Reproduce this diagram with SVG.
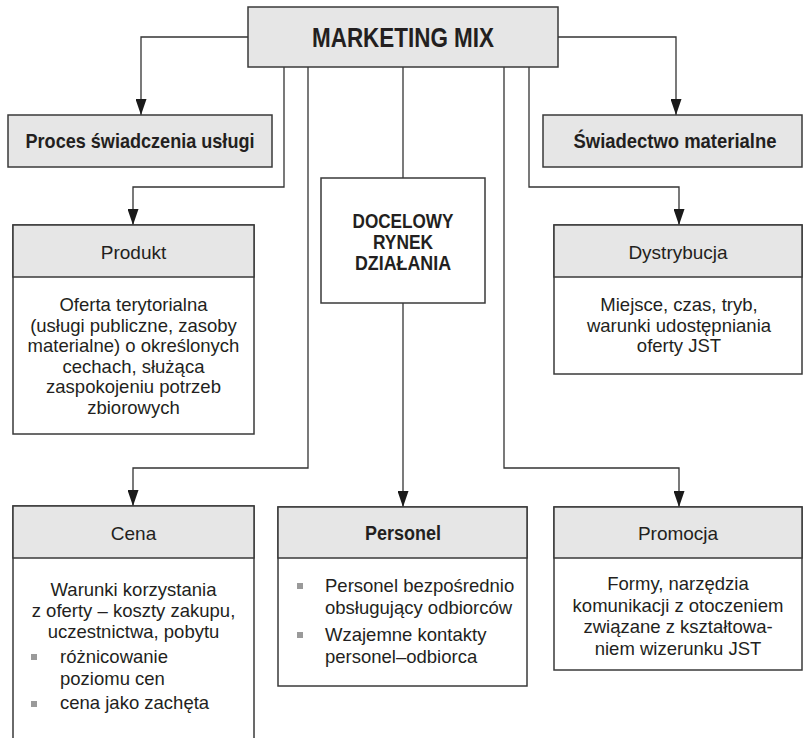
<svg xmlns="http://www.w3.org/2000/svg" width="803" height="738" viewBox="0 0 803 738">
<style>
  text { font-family: "Liberation Sans", Arial, sans-serif; fill: #231f20; }
  .t { font-size: 18.5px; text-anchor: middle; }
  .tl { font-size: 18.5px; }
  .h { font-size: 19px; text-anchor: middle; }
  .b { font-weight: bold; text-anchor: middle; }
  .box { fill: #ffffff; stroke: #3a3a3a; stroke-width: 1.5; }
  .gray { fill: #e6e6e6; stroke: #3a3a3a; stroke-width: 1.5; }
  .conn { fill: none; stroke: #333333; stroke-width: 1.3; }
  .bul { fill: #9a9a9a; }
</style>
<defs>
  <marker id="arr" viewBox="0 0 16 11" refX="16" refY="5.5" markerWidth="16" markerHeight="11" markerUnits="userSpaceOnUse" orient="auto">
    <path d="M0,0 L16,5.5 L0,11 Z" fill="#1a1a1a"/>
  </marker>
</defs>

<g id="connectors">
  <path class="conn" d="M248,37 H141 V115" marker-end="url(#arr)"/>
  <path class="conn" d="M558,37 H676 V115" marker-end="url(#arr)"/>
  <path class="conn" d="M284,67 V187 H133 V225" marker-end="url(#arr)"/>
  <path class="conn" d="M529,67 V187 H679 V225" marker-end="url(#arr)"/>
  <path class="conn" d="M403,67 V178"/>
  <path class="conn" d="M308,67 V468 H133 V506" marker-end="url(#arr)"/>
  <path class="conn" d="M504,67 V468 H679 V507" marker-end="url(#arr)"/>
  <path class="conn" d="M403,303 V507" marker-end="url(#arr)"/>
</g>

<g id="marketing-mix">
  <rect class="gray" x="248" y="7" width="310" height="60"/>
  <text class="b" x="403" y="47" font-size="27" textLength="182" lengthAdjust="spacingAndGlyphs">MARKETING MIX</text>
</g>

<g id="proces">
  <rect class="gray" x="8" y="115" width="264" height="52"/>
  <text class="b" x="140" y="148" font-size="21" textLength="229" lengthAdjust="spacingAndGlyphs">Proces świadczenia usługi</text>
</g>

<g id="swiadectwo">
  <rect class="gray" x="543" y="115" width="259" height="52"/>
  <text class="b" x="675" y="148" font-size="21" textLength="203" lengthAdjust="spacingAndGlyphs">Świadectwo materialne</text>
</g>

<g id="docelowy">
  <rect class="box" x="321" y="178" width="164" height="125"/>
  <text class="b" x="403" y="228" font-size="20.5" textLength="101" lengthAdjust="spacingAndGlyphs">DOCELOWY</text>
  <text class="b" x="403" y="249" font-size="20.5" textLength="60" lengthAdjust="spacingAndGlyphs">RYNEK</text>
  <text class="b" x="403" y="270" font-size="20.5" textLength="96" lengthAdjust="spacingAndGlyphs">DZIAŁANIA</text>
</g>

<g id="produkt">
  <rect class="box" x="13" y="225" width="241" height="209"/>
  <rect class="gray" x="13" y="225" width="241" height="52"/>
  <text class="h" x="133.5" y="259">Produkt</text>
  <text class="t" x="133.5" y="311">Oferta terytorialna</text>
  <text class="t" x="133.5" y="331.5">(usługi publiczne, zasoby</text>
  <text class="t" x="133.5" y="352">materialne) o określonych</text>
  <text class="t" x="133.5" y="372.5">cechach, służąca</text>
  <text class="t" x="133.5" y="393">zaspokojeniu potrzeb</text>
  <text class="t" x="133.5" y="413.5">zbiorowych</text>
</g>

<g id="dystrybucja">
  <rect class="box" x="554" y="225" width="248" height="149"/>
  <rect class="gray" x="554" y="225" width="248" height="52"/>
  <text class="h" x="678" y="259">Dystrybucja</text>
  <text class="t" x="679" y="311">Miejsce, czas, tryb,</text>
  <text class="t" x="679" y="331.5">warunki udostępniania</text>
  <text class="t" x="679" y="352">oferty JST</text>
</g>

<g id="cena">
  <rect class="box" x="13" y="506" width="241" height="240"/>
  <rect class="gray" x="13" y="506" width="241" height="52"/>
  <text class="h" x="133.5" y="540">Cena</text>
  <text class="t" x="133.5" y="596">Warunki korzystania</text>
  <text class="t" x="133.5" y="617">z oferty – koszty zakupu,</text>
  <text class="t" x="133.5" y="638">uczestnictwa, pobytu</text>
  <rect class="bul" x="31" y="654" width="6" height="6"/>
  <text class="tl" x="60" y="663">różnicowanie</text>
  <text class="tl" x="60" y="685">poziomu cen</text>
  <rect class="bul" x="31" y="701" width="6" height="6"/>
  <text class="tl" x="60" y="709">cena jako zachęta</text>
</g>

<g id="personel">
  <rect class="box" x="278" y="507" width="249" height="179"/>
  <rect class="gray" x="278" y="507" width="249" height="51"/>
  <text class="b" x="403" y="540" font-size="20" textLength="76" lengthAdjust="spacingAndGlyphs">Personel</text>
  <rect class="bul" x="297" y="583" width="6" height="6"/>
  <text class="tl" x="325" y="592">Personel bezpośrednio</text>
  <text class="tl" x="325" y="614">obsługujący odbiorców</text>
  <rect class="bul" x="297" y="632" width="6" height="6"/>
  <text class="tl" x="325" y="641">Wzajemne kontakty</text>
  <text class="tl" x="325" y="663">personel–odbiorca</text>
</g>

<g id="promocja">
  <rect class="box" x="554" y="507" width="248" height="163"/>
  <rect class="gray" x="554" y="507" width="248" height="51"/>
  <text class="h" x="678" y="540">Promocja</text>
  <text class="t" x="678" y="590">Formy, narzędzia</text>
  <text class="t" x="678" y="611.5">komunikacji z otoczeniem</text>
  <text class="t" x="678" y="633">związane z kształtowa-</text>
  <text class="t" x="678" y="654.5">niem wizerunku JST</text>
</g>
</svg>
